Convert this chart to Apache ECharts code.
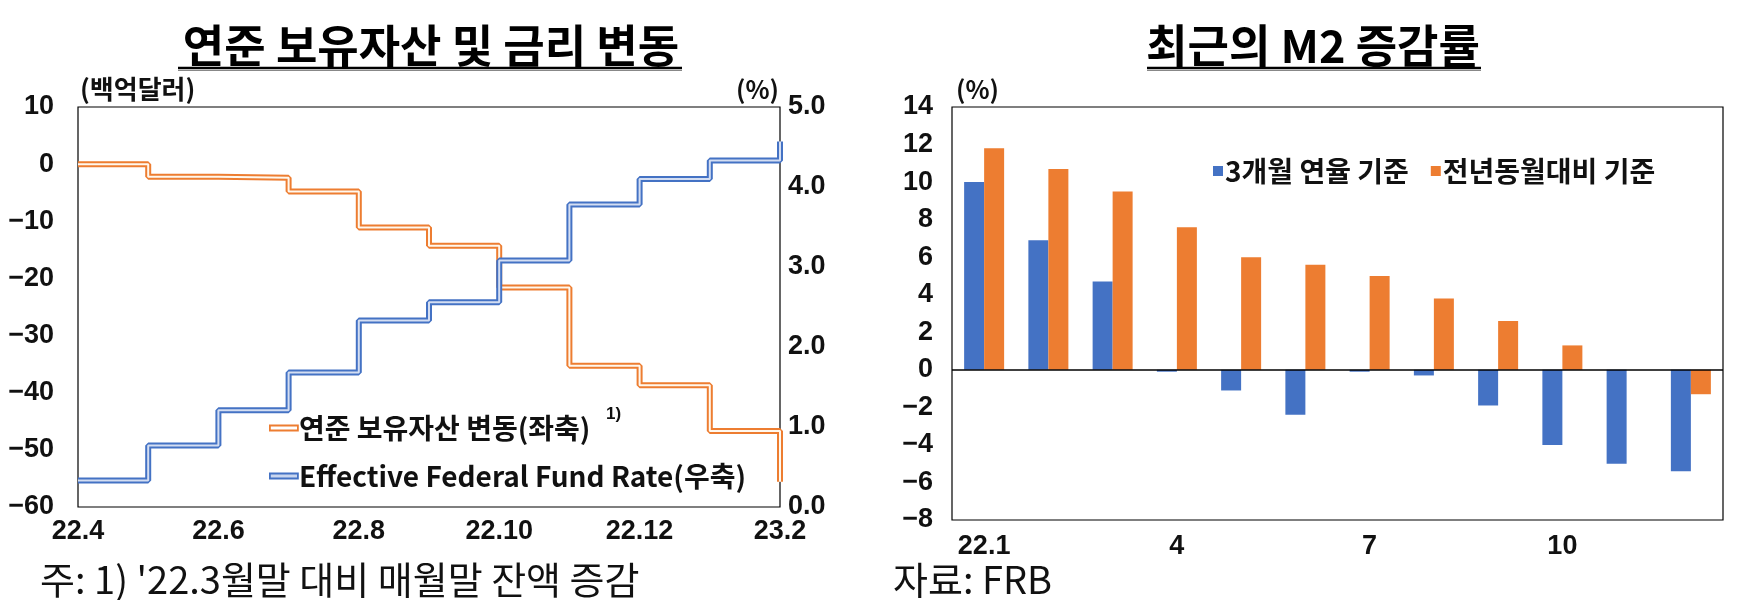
<!DOCTYPE html>
<html>
<head>
<meta charset="utf-8">
<script src="https://cdn.jsdelivr.net/npm/echarts@6/dist/echarts.min.js"></script>
<style>
html,body{margin:0;padding:0;background:#fff;}
#c{width:1742px;height:600px;}
</style>
</head>
<body>
<div id="c"></div>
<script>
// ---- Left chart data ----
const leftCats = ['22.4','22.5','22.6','22.7','22.8','22.9','22.10','22.11','22.12','23.1','23.2'];
const fedAssetChange = [0, -2.2, -2.4, -4.8, -11.1, -14.3, -21.6, -35.3, -38.7, -46.7, -55.6];
const effr = [0.33, 0.77, 1.21, 1.68, 2.33, 2.56, 3.08, 3.78, 4.10, 4.33, 4.57];
const leftNames = ['연준 보유자산 변동(좌축)', 'Effective Federal Fund Rate(우축)'];

// ---- Right chart data ----
const rightCats = ['22.1','2','3','4','5','6','7','8','9','10','11','12'];
const m2Ann3m = [10.0, 6.9, 4.7, -0.1, -1.1, -2.4, -0.1, -0.3, -1.9, -4.0, -5.0, -5.4];
const m2YoY = [11.8, 10.7, 9.5, 7.6, 6.0, 5.6, 5.0, 3.8, 2.6, 1.3, 0, -1.3];
const rightNames = ['3개월 연율 기준', '전년동월대비 기준'];

// ---- Texts ----
const titleLeft = '연준 보유자산 및 금리 변동';
const titleRight = '최근의 M2 증감률';
const unitLeft = '(백억달러)';
const unitRightL = '(%)';
const unitRight = '(%)';
const noteLeft = "주: 1) '22.3월말 대비 매월말 잔액 증감";
const noteRight = '자료: FRB';

const ORANGE = '#ED7D31', BLUE = '#4472C4';
const KR = "'Noto Sans CJK KR','Noto Sans',sans-serif";
const NUM = "'Liberation Sans',Arial,sans-serif";
const minus = v => String(v).replace('-', '\u2212');

const chart = echarts.init(document.getElementById('c'), null, {renderer:'canvas'});
const tickLabel = {color:'#111', fontFamily:NUM, fontWeight:'bold', fontSize:27};

const option = {
  animation:false,
  backgroundColor:'#fff',
  grid:[
    {left:78, top:107, width:702, height:400, show:true, borderColor:'#000', borderWidth:1.2, backgroundColor:'transparent'},
    {left:952, top:107, width:771, height:413, show:true, borderColor:'#000', borderWidth:1.2, backgroundColor:'transparent'}
  ],
  xAxis:[
    {gridIndex:0, type:'category', data:leftCats, boundaryGap:false,
     axisLine:{show:false}, axisTick:{show:false}, splitLine:{show:false},
     axisLabel:Object.assign({interval:1, margin:11}, tickLabel)},
    {gridIndex:1, type:'category', data:rightCats, boundaryGap:true,
     axisLine:{show:false, onZero:false}, axisTick:{show:false}, splitLine:{show:false},
     axisLabel:Object.assign({interval:2, margin:13}, tickLabel)}
  ],
  yAxis:[
    {gridIndex:0, type:'value', min:-60, max:10, interval:10, position:'left',
     axisLine:{show:false}, axisTick:{show:false}, splitLine:{show:false},
     axisLabel:Object.assign({margin:24, formatter:v=>minus(v)}, tickLabel)},
    {gridIndex:0, type:'value', min:0, max:5, interval:1, position:'right',
     axisLine:{show:false}, axisTick:{show:false}, splitLine:{show:false},
     axisLabel:Object.assign({margin:8, formatter:v=>v.toFixed(1)}, tickLabel)},
    {gridIndex:1, type:'value', min:-8, max:14, interval:2,
     axisLine:{show:false}, axisTick:{show:false}, splitLine:{show:false},
     axisLabel:Object.assign({margin:19, formatter:v=>minus(v)}, tickLabel)}
  ],
  legend:[
    {orient:'vertical', left:264, top:409, itemGap:20, itemWidth:28, itemHeight:5,
     data:[
       {name:leftNames[0], icon:'rect', itemStyle:{color:'#fff', borderColor:ORANGE, borderWidth:1.8}},
       {name:leftNames[1], icon:'rect', itemStyle:{color:'#c9d6ef', borderColor:BLUE, borderWidth:1.8}}
     ],
     textStyle:{fontFamily:KR, fontWeight:'bold', fontSize:28, color:'#111', padding:[0,0,0,-4]}},
    {orient:'horizontal', left:1208, top:152, itemGap:22, itemWidth:10, itemHeight:10, icon:'rect',
     data:rightNames,
     textStyle:{fontFamily:KR, fontWeight:'bold', fontSize:28, color:'#111', padding:[0,0,0,-3]}}
  ],
  series:[
    {name:leftNames[0], type:'line', xAxisIndex:0, yAxisIndex:0, data:fedAssetChange, step:'end',
     showSymbol:false, symbol:'none', color:ORANGE, lineStyle:{color:ORANGE, width:6}, z:2, silent:true},
    {name:'_o', type:'line', xAxisIndex:0, yAxisIndex:0, data:fedAssetChange, step:'end',
     showSymbol:false, symbol:'none', lineStyle:{color:'#fff8ee', width:2}, z:3, silent:true},
    {name:leftNames[1], type:'line', xAxisIndex:0, yAxisIndex:1, data:effr, step:'end',
     showSymbol:false, symbol:'none', color:BLUE, lineStyle:{color:BLUE, width:6}, z:4, silent:true},
    {name:'_b', type:'line', xAxisIndex:0, yAxisIndex:1, data:effr, step:'end',
     showSymbol:false, symbol:'none', lineStyle:{color:'#d4def2', width:2}, z:5, silent:true},
    {name:rightNames[0], type:'bar', xAxisIndex:1, yAxisIndex:2, data:m2Ann3m, color:BLUE,
     barWidth:20, barGap:'0%', silent:true,
     markLine:{silent:true, symbol:'none', label:{show:false},
       lineStyle:{color:'#000', type:'solid', width:1.5}, data:[{yAxis:0}]}},
    {name:rightNames[1], type:'bar', xAxisIndex:1, yAxisIndex:2, data:m2YoY, color:ORANGE,
     barWidth:20, barGap:'0%', silent:true}
  ],
  graphic:[
    {type:'text', x:431, y:46, style:{text:titleLeft, font:"bold 45px "+KR, fill:'#000', align:'center', verticalAlign:'middle'}},
    {type:'line', shape:{x1:178, y1:68, x2:682, y2:68}, style:{stroke:'#000', lineWidth:2.5}},
    {type:'line', shape:{x1:178, y1:70.5, x2:682, y2:70.5}, style:{stroke:'#888', lineWidth:1}},
    {type:'text', x:1313, y:46, style:{text:titleRight, font:"bold 45px "+KR, fill:'#000', align:'center', verticalAlign:'middle'}},
    {type:'line', shape:{x1:1147, y1:68, x2:1481, y2:68}, style:{stroke:'#000', lineWidth:2.5}},
    {type:'line', shape:{x1:1147, y1:70.5, x2:1481, y2:70.5}, style:{stroke:'#888', lineWidth:1}},
    {type:'text', x:80, y:89, style:{text:unitLeft, font:"bold 26px "+KR, fill:'#111', align:'left', verticalAlign:'middle'}},
    {type:'text', x:779, y:89, style:{text:unitRightL, font:"bold 25px "+KR, fill:'#111', align:'right', verticalAlign:'middle'}},
    {type:'text', x:956, y:89, style:{text:unitRight, font:"bold 25px "+KR, fill:'#111', align:'left', verticalAlign:'middle'}},
    {type:'text', x:606, y:414, style:{text:'1)', font:"bold 17px "+NUM, fill:'#111', align:'left', verticalAlign:'middle'}},
    {type:'text', x:40, y:580, style:{text:noteLeft, font:"38px "+KR, fill:'#111', align:'left', verticalAlign:'middle'}},
    {type:'text', x:893, y:580, style:{text:noteRight, font:"38px "+KR, fill:'#111', align:'left', verticalAlign:'middle'}}
  ]
};
chart.setOption(option);
</script>
</body>
</html>
